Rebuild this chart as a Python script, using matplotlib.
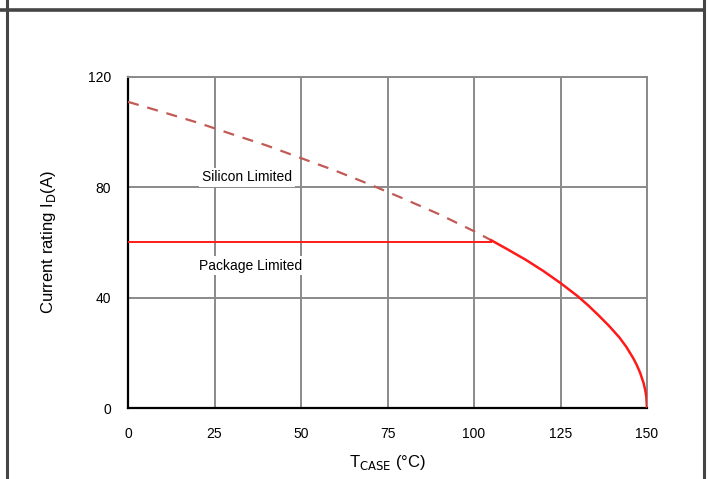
import matplotlib
matplotlib.use("Agg")
import matplotlib.pyplot as plt
from matplotlib.lines import Line2D

plt.rcParams['font.family'] = ['Liberation Sans', 'DejaVu Sans']

# Data
silicon_T = [0, 10, 20, 30, 40, 50, 60, 70, 80, 90, 100, 105]
silicon_I = [111, 107.3, 103.5, 99.3, 95.2, 90.6, 86.0, 81.0, 75.7, 70.2, 64.1, 60.8]

package_T = [0, 105]
package_I = [60, 60]

derate_T = [105, 110, 115, 120, 125, 130, 133, 136, 139, 142, 144, 146, 147, 148, 149, 149.5, 149.8, 150]
derate_I = [60.8, 57.3, 53.7, 49.7, 45.3, 40.5, 37.2, 33.6, 29.8, 25.6, 22.2, 18.1, 15.7, 12.8, 9.1, 6.4, 4.1, 0]

x_ticks = [0, 25, 50, 75, 100, 125, 150]
y_ticks = [0, 40, 80, 120]

W, H = 708, 479
fig = plt.figure(figsize=(W / 100, H / 100), dpi=100)
# axes in pixel coordinates: left 128, right 647, top 77, bottom 408
ax = fig.add_axes([128 / W, 1 - 408 / H, (647 - 128) / W, (408 - 77) / H])

ax.set_xlim(0, 150)
ax.set_ylim(0, 120)
ax.set_xticks(x_ticks)
ax.set_yticks(y_ticks)
ax.grid(True, color='#8a8a8a', linewidth=1.4)
ax.set_axisbelow(True)

for s in ['top', 'right']:
    ax.spines[s].set_color('#8a8a8a')
    ax.spines[s].set_linewidth(1.4)
for s in ['left', 'bottom']:
    ax.spines[s].set_color('black')
    ax.spines[s].set_linewidth(1.6)

ax.tick_params(length=0, labelsize=10, pad=12)
ax.tick_params(axis='x', pad=14)

ax.plot(silicon_T, silicon_I, color='#c25a56', linewidth=1.6,
        dashes=(5, 4), zorder=3)
ax.plot(package_T, package_I, color='#ff1a1a', linewidth=1.4, zorder=4)
ax.plot(derate_T, derate_I, color='#ff1a1a', linewidth=1.8, zorder=4,
        solid_joinstyle='round')

bbox = dict(facecolor='white', edgecolor='none', pad=2)
ax.text(34.4, 83.6, 'Silicon Limited', fontsize=10, ha='center', va='center',
        bbox=bbox, zorder=5)
ax.text(35.3, 51.6, 'Package Limited', fontsize=10, ha='center', va='center',
        bbox=bbox, zorder=5)

ax.set_xlabel(r'T$_{\mathrm{CASE}}$ (°C)', fontsize=12, labelpad=8)
ax.set_ylabel(r'Current rating I$_{\mathrm{D}}$(A)', fontsize=12, labelpad=22)

# outer frame
def px_line(x0, y0, x1, y1, lw=2.2, color='#454545'):
    fig.add_artist(Line2D([x0 / W, x1 / W], [1 - y0 / H, 1 - y1 / H],
                          transform=fig.transFigure, color=color, linewidth=lw))

px_line(0, 9.5, 703, 9.5, lw=2.6)
px_line(7, 0, 7, H)
px_line(703.5, 0, 703.5, H)

fig.savefig('out.png', dpi=100)
